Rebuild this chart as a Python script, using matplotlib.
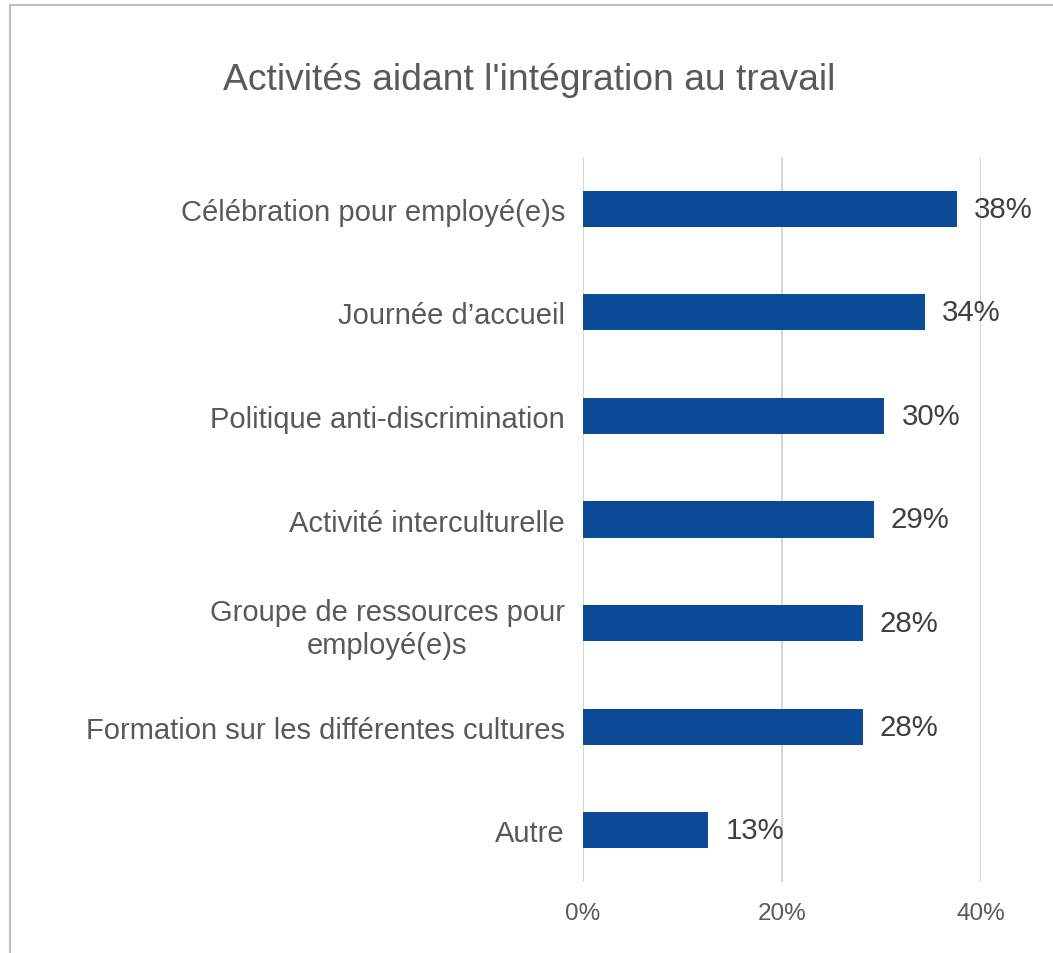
import matplotlib
matplotlib.use("Agg")
import matplotlib.pyplot as plt
from matplotlib.patches import Rectangle

categories = [
    "Célébration pour employé(e)s",
    "Journée d’accueil",
    "Politique anti-discrimination",
    "Activité interculturelle",
    "Groupe de ressources pour\nemployé(e)s",
    "Formation sur les différentes cultures",
    "Autre",
]
values = [37.6, 34.4, 30.3, 29.2, 28.1, 28.1, 12.6]
xticks = [0, 20, 40]
xtick_labels = ["0%", "20%", "40%"]
title = "Activités aidant l'intégration au travail"

plt.rcParams['font.family'] = ['Liberation Sans', 'DejaVu Sans']

W, H = 1053, 954
fig = plt.figure(figsize=(W / 100, H / 100), dpi=100)

# chart border (partially cropped)
fig.patches.append(Rectangle((9.5 / W, -0.1), 1.2, 1 - 6 / H + 0.1,
                             transform=fig.transFigure, fill=False,
                             edgecolor='#BFBFBF', linewidth=1.5))

left, right, top, bottom = 583, 981, 158, 883
ax = fig.add_axes([left / W, 1 - bottom / H, (right - left) / W, (bottom - top) / H])

ypos = list(range(len(categories)))
ax.barh(ypos, values, height=0.35, color='#0A4A96')
ax.set_ylim(len(categories) - 0.5, -0.5)
ax.set_xlim(0, 40)
ax.set_yticks(ypos)
ax.set_yticklabels(categories, fontsize=21, color='#595959', multialignment='center',
                   linespacing=1.22)
ax.set_xticks(xticks)
ax.set_xticklabels(xtick_labels, fontsize=17.5, color='#595959')
ax.tick_params(axis='y', length=0, pad=13)
ax.tick_params(axis='x', length=0, pad=14.5)
for s in ax.spines.values():
    s.set_visible(False)
ax.grid(axis='x', color='#D4D4D4', linewidth=1.4)
ax.set_axisbelow(True)

for y, v in zip(ypos, values):
    ax.annotate(f"{v:.0f}%", xy=(v, y), xytext=(12.2, 0), textcoords='offset points',
                ha='left', va='center', fontsize=21.2, color='#404040',
                annotation_clip=False)

fig.text(529 / W, 1 - 81 / H, title, ha='center', va='center', fontsize=26.8, color='#595959')

fig.savefig('out.png', dpi=100)
